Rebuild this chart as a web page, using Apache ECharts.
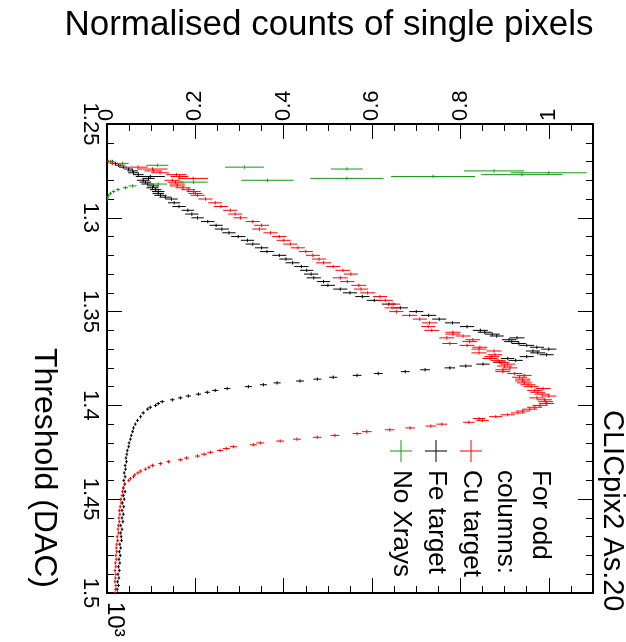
<!DOCTYPE html>
<html>
<head>
<meta charset="utf-8">
<script src="https://cdn.jsdelivr.net/npm/echarts@6/dist/echarts.min.js"></script>
<style>
  html, body { margin: 0; padding: 0; background: #fff; }
  #chart { width: 626px; height: 642px; }
</style>
</head>
<body>
<div id="chart"></div>
<script>
// rows: [threshold (DAC), normalised counts, error on counts]
var feRows = [
  [1270,0.012,0.004],[1271,0.019,0.006],[1272,0.026,0.007],[1273,0.037,0.01],[1274,0.049,0.01],
  [1275,0.058,0.012],[1276,0.06,0.012],[1277,0.071,0.012],[1278,0.098,0.033],[1279,0.094,0.014],
  [1280,0.082,0.014],[1281,0.087,0.013],[1282,0.092,0.014],[1283,0.105,0.013],[1284,0.103,0.014],
  [1285,0.11,0.013],[1286,0.116,0.014],[1287,0.116,0.013],[1288,0.121,0.014],[1289,0.132,0.013],
  [1290,0.146,0.014],[1292,0.152,0.014],[1294,0.163,0.015],[1296,0.183,0.014],[1298,0.192,0.015],
  [1300,0.205,0.014],[1302,0.228,0.015],[1304,0.247,0.015],[1306,0.26,0.016],[1308,0.276,0.015],
  [1310,0.297,0.016],[1312,0.318,0.015],[1314,0.33,0.016],[1316,0.35,0.015],[1318,0.362,0.016],
  [1320,0.39,0.016],[1322,0.405,0.015],[1324,0.42,0.016],[1326,0.44,0.016],[1328,0.452,0.015],
  [1330,0.462,0.016],[1332,0.468,0.016],[1334,0.49,0.015],[1336,0.5,0.016],[1338,0.528,0.016],
  [1340,0.55,0.016],[1342,0.578,0.016],[1344,0.605,0.017],[1346,0.638,0.016],[1348,0.664,0.017],
  [1350,0.7,0.016],[1352,0.728,0.017],[1354,0.752,0.016],[1356,0.782,0.017],[1358,0.815,0.016],
  [1360,0.845,0.017],[1361,0.855,0.016],[1362,0.872,0.017],[1363,0.882,0.016],[1364,0.928,0.017],
  [1365,0.91,0.016],[1366,0.916,0.017],[1367,0.932,0.016],[1368,0.95,0.017],[1369,0.973,0.016],
  [1370,1.0,0.017],[1371,0.964,0.016],[1372,0.975,0.017],[1373,0.995,0.016],[1374,0.95,0.016],
  [1375,0.907,0.015],[1376,0.925,0.016],[1377,0.889,0.015],[1378,0.851,0.015],[1379,0.812,0.014],
  [1380,0.776,0.012],[1381,0.72,0.011],[1382,0.675,0.01],[1383,0.614,0.01],[1384,0.566,0.01],
  [1385,0.512,0.009],[1386,0.476,0.009],[1387,0.437,0.009],[1388,0.385,0.008],[1389,0.354,0.008],
  [1390,0.32,0.008],[1391,0.272,0.007],[1392,0.245,0.007],[1393,0.227,0.006],[1394,0.207,0.006],
  [1395,0.184,0.006],[1396,0.166,0.005],[1397,0.148,0.005],[1398,0.125,0.005],[1399,0.116,0.004],
  [1400,0.11,0.004],[1401,0.098,0.004],[1402,0.092,0.004],[1404,0.082,0.004],[1406,0.076,0.003],
  [1408,0.069,0.003],[1410,0.064,0.003],[1412,0.06,0.003],[1414,0.058,0.003],[1416,0.055,0.003],
  [1418,0.053,0.003],[1420,0.05,0.003],[1422,0.049,0.003],[1424,0.046,0.003],[1426,0.045,0.003],
  [1428,0.043,0.003],[1430,0.044,0.003],[1432,0.041,0.003],[1434,0.042,0.003],[1436,0.039,0.003],
  [1438,0.041,0.003],[1440,0.038,0.003],[1442,0.04,0.003],[1444,0.037,0.003],[1446,0.041,0.003],
  [1448,0.037,0.003],[1450,0.039,0.003],[1452,0.035,0.003],[1454,0.038,0.003],[1456,0.034,0.003],
  [1458,0.037,0.003],[1460,0.034,0.003],[1462,0.036,0.003],[1464,0.031,0.003],[1466,0.034,0.003],
  [1468,0.031,0.003],[1470,0.032,0.003],[1472,0.033,0.003],[1474,0.029,0.003],[1476,0.031,0.003],
  [1478,0.028,0.003],[1480,0.03,0.003],[1482,0.027,0.003],[1484,0.029,0.003],[1486,0.026,0.003],
  [1488,0.028,0.003],[1490,0.025,0.003],[1492,0.027,0.003],[1494,0.024,0.003],[1496,0.026,0.003],
  [1498,0.023,0.003],[1500,0.024,0.003]
];

var cuRows = [
  [1270,0.003,0.003],[1271,0.012,0.006],[1272,0.03,0.012],[1273,0.07,0.022],[1274,0.103,0.034],
  [1275,0.105,0.02],[1276,0.12,0.02],[1277,0.157,0.023],[1278,0.164,0.02],[1279,0.195,0.034],
  [1280,0.148,0.018],[1281,0.155,0.018],[1282,0.159,0.017],[1283,0.159,0.017],[1284,0.172,0.017],
  [1285,0.184,0.016],[1286,0.196,0.016],[1287,0.2,0.016],[1288,0.205,0.016],[1290,0.223,0.016],
  [1292,0.245,0.016],[1294,0.258,0.016],[1296,0.279,0.016],[1298,0.29,0.016],[1300,0.302,0.016],
  [1302,0.33,0.016],[1304,0.35,0.017],[1306,0.345,0.016],[1308,0.37,0.016],[1310,0.39,0.016],
  [1312,0.4,0.016],[1314,0.415,0.016],[1316,0.432,0.016],[1318,0.45,0.016],[1320,0.466,0.016],
  [1322,0.48,0.016],[1324,0.49,0.017],[1326,0.512,0.016],[1328,0.534,0.017],[1330,0.552,0.016],
  [1332,0.528,0.017],[1334,0.544,0.016],[1336,0.57,0.017],[1338,0.575,0.016],[1340,0.59,0.017],
  [1342,0.618,0.016],[1344,0.63,0.017],[1346,0.648,0.016],[1348,0.645,0.017],[1350,0.655,0.016],
  [1352,0.685,0.017],[1354,0.708,0.016],[1356,0.73,0.017],[1358,0.727,0.016],[1360,0.735,0.017],
  [1361,0.783,0.017],[1362,0.783,0.017],[1363,0.806,0.017],[1364,0.769,0.017],[1365,0.828,0.017],
  [1366,0.821,0.017],[1367,0.776,0.017],[1368,0.815,0.017],[1369,0.844,0.017],[1370,0.842,0.017],
  [1371,0.876,0.017],[1372,0.842,0.017],[1373,0.878,0.017],[1374,0.871,0.017],[1375,0.867,0.017],
  [1376,0.885,0.017],[1377,0.894,0.017],[1378,0.907,0.017],[1379,0.9,0.017],[1380,0.912,0.017],
  [1381,0.896,0.017],[1382,0.896,0.017],[1383,0.923,0.017],[1384,0.944,0.017],[1385,0.934,0.017],
  [1386,0.941,0.017],[1387,0.941,0.017],[1388,0.945,0.017],[1389,0.953,0.017],[1390,0.96,0.017],
  [1391,0.987,0.017],[1392,0.968,0.017],[1393,0.975,0.017],[1394,0.985,0.017],[1395,1.0,0.017],
  [1396,0.973,0.017],[1397,0.99,0.017],[1398,0.993,0.017],[1399,0.995,0.017],[1400,0.98,0.017],
  [1401,0.968,0.017],[1402,0.957,0.017],[1403,0.941,0.016],[1404,0.93,0.016],[1405,0.907,0.016],
  [1406,0.88,0.015],[1407,0.842,0.014],[1408,0.85,0.014],[1409,0.819,0.013],[1410,0.758,0.012],
  [1411,0.733,0.012],[1412,0.686,0.011],[1413,0.64,0.011],[1414,0.588,0.011],[1415,0.566,0.01],
  [1416,0.516,0.01],[1417,0.476,0.01],[1418,0.43,0.009],[1419,0.392,0.009],[1420,0.347,0.009],
  [1421,0.331,0.008],[1422,0.286,0.008],[1423,0.27,0.008],[1424,0.256,0.007],[1425,0.234,0.007],
  [1426,0.22,0.007],[1427,0.205,0.006],[1428,0.18,0.006],[1429,0.166,0.006],[1430,0.139,0.005],
  [1431,0.121,0.005],[1432,0.103,0.005],[1433,0.095,0.004],[1434,0.087,0.004],[1435,0.076,0.004],
  [1436,0.07,0.004],[1437,0.063,0.003],[1438,0.06,0.003],[1439,0.053,0.003],[1440,0.049,0.003],
  [1442,0.04,0.003],[1444,0.037,0.003],[1446,0.035,0.003],[1448,0.034,0.003],[1450,0.031,0.003],
  [1452,0.032,0.003],[1454,0.03,0.003],[1456,0.028,0.003],[1458,0.029,0.003],[1460,0.027,0.003],
  [1462,0.028,0.003],[1464,0.026,0.003],[1466,0.025,0.003],[1468,0.026,0.003],[1470,0.023,0.003],
  [1472,0.024,0.003],[1474,0.022,0.003],[1476,0.021,0.003],[1478,0.022,0.003],[1480,0.02,0.003],
  [1482,0.021,0.003],[1484,0.019,0.003],[1486,0.02,0.003],[1488,0.018,0.003],[1490,0.02,0.003],
  [1492,0.019,0.003],[1494,0.018,0.003],[1496,0.02,0.003],[1498,0.019,0.003],[1500,0.018,0.003]
];

var noXrayRows = [
  [1270,0.008,0.009],[1271,0.035,0.014],[1272,0.114,0.025],[1273,0.311,0.044],[1274,0.543,0.036],
  [1275,0.876,0.068],[1276,1.0,0.086],[1277,0.939,0.092],[1278,0.738,0.095],[1279,0.543,0.083],
  [1280,0.363,0.059],[1281,0.196,0.032],[1282,0.116,0.02],[1283,0.058,0.009],[1284,0.042,0.006],
  [1285,0.025,0.005],[1286,0.015,0.004],[1287,0.008,0.003],[1288,0.004,0.002],[1289,0.002,0.002],
  [1290,0.001,0.001]
];

var legendLines = ['For odd', 'columns:', 'Cu target', 'Fe target', 'No Xrays'];
var legendColors = ['#ff0000', '#000000', '#109c10'];

var FONT = '"Liberation Sans", Arial, sans-serif';

function errSeries(name, rows, color) {
  return {
    type: 'custom',
    name: name,
    data: rows,
    encode: { x: 1, y: 0 },
    clip: true,
    xAxisIndex: 0,
    yAxisIndex: 0,
    renderItem: function (params, api) {
      var t = api.value(0), c = api.value(1), e = api.value(2);
      var p = api.coord([c, t]);
      var l = api.coord([c - e, t]);
      var r = api.coord([c + e, t]);
      var up = api.coord([c, t - 0.9]);
      var dn = api.coord([c, t + 0.9]);
      var st = { stroke: color, lineWidth: 1 };
      return {
        type: 'group',
        children: [
          { type: 'line', shape: { x1: l[0], y1: p[1], x2: r[0], y2: p[1] }, style: st },
          { type: 'line', shape: { x1: p[0], y1: up[1], x2: p[0], y2: dn[1] }, style: st }
        ]
      };
    }
  };
}

function rotText(text, x, y, size, align) {
  return {
    type: 'text', x: x, y: y, rotation: -Math.PI / 2,
    style: {
      text: text, fill: '#000', fontSize: size, fontFamily: FONT,
      align: align, textAlign: align, verticalAlign: 'middle', textVerticalAlign: 'middle'
    }
  };
}

function legendCross(cx, cy, color) {
  return [
    { type: 'line', shape: { x1: cx - 11, y1: cy, x2: cx + 11, y2: cy }, style: { stroke: color, lineWidth: 1 } },
    { type: 'line', shape: { x1: cx, y1: cy - 11, x2: cx, y2: cy + 11 }, style: { stroke: color, lineWidth: 1 } }
  ];
}

var black = '#000';
function xAx(pos, interval, len, major) {
  return {
    type: 'value', position: pos, min: 0, max: 1.1, interval: interval,
    axisLine: { show: major, onZero: false, lineStyle: { color: black, width: 2 } },
    axisTick: { show: true, inside: true, length: len, lineStyle: { color: black, width: 1 } },
    axisLabel: {
      show: major && pos === 'top', rotate: -90, margin: 3, color: black,
      fontSize: 22, fontFamily: FONT,
      formatter: function (v) { return v > 1.05 ? '' : String(+v.toFixed(2)); }
    },
    splitLine: { show: false }
  };
}
function yAx(pos) {
  return {
    type: 'value', position: pos, inverse: true, min: 1250, max: 1500, interval: 50,
    axisLine: { show: true, onZero: false, lineStyle: { color: black, width: 2 } },
    axisTick: { show: true, inside: true, length: 15, lineStyle: { color: black, width: 1 } },
    minorTick: { show: true, splitNumber: 5, length: 7, lineStyle: { color: black, width: 1 } },
    axisLabel: {
      show: pos === 'left', rotate: -90, margin: 6, color: black,
      fontSize: 22, fontFamily: FONT,
      formatter: function (v) { return String(+(v / 1000).toFixed(2)); }
    },
    splitLine: { show: false }
  };
}

var graphics = [
  { type: 'text', x: 329, y: 25, style: { text: 'Normalised counts of single pixels', fill: '#000', fontSize: 35, fontFamily: FONT, align: 'center', textAlign: 'center', verticalAlign: 'middle', textVerticalAlign: 'middle' } },
  rotText('Threshold (DAC)', 44, 588, 32, 'right'),
  rotText('CLICpix2 As.20', 612, 410, 29, 'left'),
  rotText('10\u00B3', 115, 602, 24, 'left')
];
var legendX = [540, 505, 471, 436, 401];
legendLines.forEach(function (s, i) { graphics.push(rotText(s, legendX[i], 470, 26, 'left')); });
legendColors.forEach(function (col, i) { graphics = graphics.concat(legendCross(legendX[i + 2], 451, col)); });

var chart = echarts.init(document.getElementById('chart'));
chart.setOption({
  animation: false,
  backgroundColor: '#fff',
  grid: { left: 107, right: 33, top: 124, bottom: 49, containLabel: false },
  xAxis: [xAx('top', 0.2, 15, true), xAx('top', 0.05, 7, false), xAx('bottom', 0.2, 15, true), xAx('bottom', 0.05, 7, false)],
  yAxis: [yAx('left'), yAx('right')],
  series: [
    errSeries('Fe target', feRows, '#000000'),
    errSeries('Cu target', cuRows, '#ff0000'),
    errSeries('No Xrays', noXrayRows, '#109c10')
  ],
  graphic: graphics
});
</script>
</body>
</html>
